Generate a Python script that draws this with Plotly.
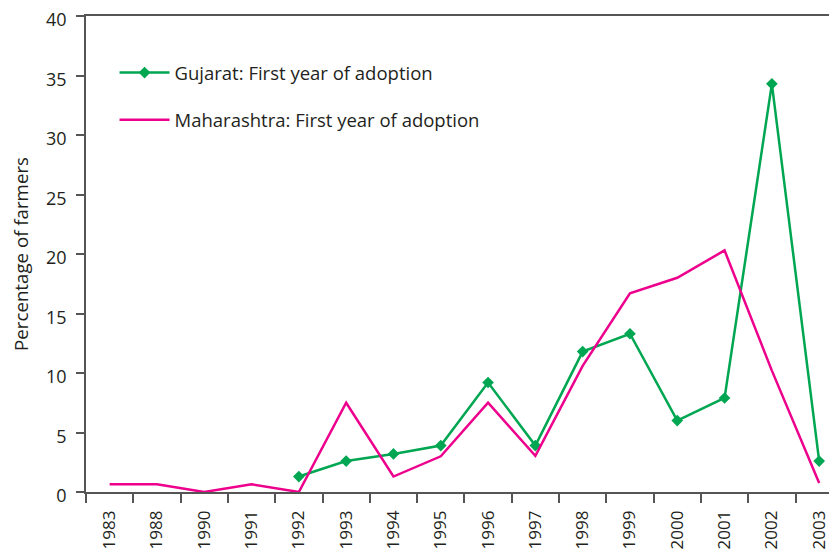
import plotly.graph_objects as go

years = ["1983", "1988", "1990", "1991", "1992", "1993", "1994", "1995", "1996",
         "1997", "1998", "1999", "2000", "2001", "2002", "2003"]
gujarat_years = ["1992", "1993", "1994", "1995", "1996", "1997", "1998", "1999",
                 "2000", "2001", "2002", "2003"]
gujarat = [1.3, 2.6, 3.2, 3.9, 9.2, 3.9, 11.8, 13.3, 6.0, 7.9, 34.3, 2.6]
maharashtra = [0.65, 0.65, 0.0, 0.65, 0.0, 7.5, 1.3, 3.0, 7.5, 3.05, 10.6, 16.7,
               18.0, 20.3, 10.2, 0.75]

GREEN = "#00a651"
MAGENTA = "#ec008c"
TXT = "#231f20"
AX = "#555555"
FONT = "Open Sans"

fig = go.Figure()
fig.add_trace(go.Scatter(
    x=gujarat_years, y=gujarat, mode="lines+markers",
    name="Gujarat: First year of adoption", legendgroup="g",
    line=dict(color=GREEN, width=2.5),
    marker=dict(symbol="diamond", size=9, color=GREEN),
    cliponaxis=False,
))
fig.add_trace(go.Scatter(
    x=years, y=maharashtra, mode="lines",
    name="Maharashtra: First year of adoption", legendgroup="m",
    line=dict(color=MAGENTA, width=2.5),
    cliponaxis=False,
))

# page body has an 8px margin, so the figure is sized to fit the window
fig.update_layout(
    width=829, height=541,
    margin=dict(l=78, r=0, t=8, b=57, autoexpand=False),
    paper_bgcolor="white", plot_bgcolor="white",
    font=dict(family=FONT, color=TXT, size=16),
    legend=dict(x=0.038, y=0.92, xanchor="left", yanchor="top",
                font=dict(size=18.5, color=TXT), tracegroupgap=20,
                itemwidth=50, bgcolor="rgba(0,0,0,0)"),
    xaxis=dict(
        type="category", categoryorder="array", categoryarray=years,
        range=[-0.5, 15.377], automargin=False,
        tickson="boundaries", ticks="outside", ticklen=9, tickwidth=1.5,
        tickcolor=AX, showline=True, linecolor=AX, linewidth=1.5,
        mirror=True, showgrid=False, tickangle=-90, ticklabelstandoff=10,
        ticklabeloverflow="allow",
        tickfont=dict(size=17, color=TXT),
    ),
    yaxis=dict(
        range=[0, 40], tickvals=[0, 5, 10, 15, 20, 25, 30, 35, 40],
        ticks="outside", ticklen=8, tickwidth=1.5, tickcolor=AX, automargin=False,
        showline=True, linecolor=AX, linewidth=1.5, showgrid=False,
        zeroline=False, ticklabeloverflow="allow",
        ticklabelstandoff=6, ticklabelshift=4,
        tickfont=dict(size=18, color=TXT),
        title=dict(text="Percentage of farmers", font=dict(size=18.7, color=TXT),
                   standoff=32),
    ),
)

fig.write_html("out.html")
